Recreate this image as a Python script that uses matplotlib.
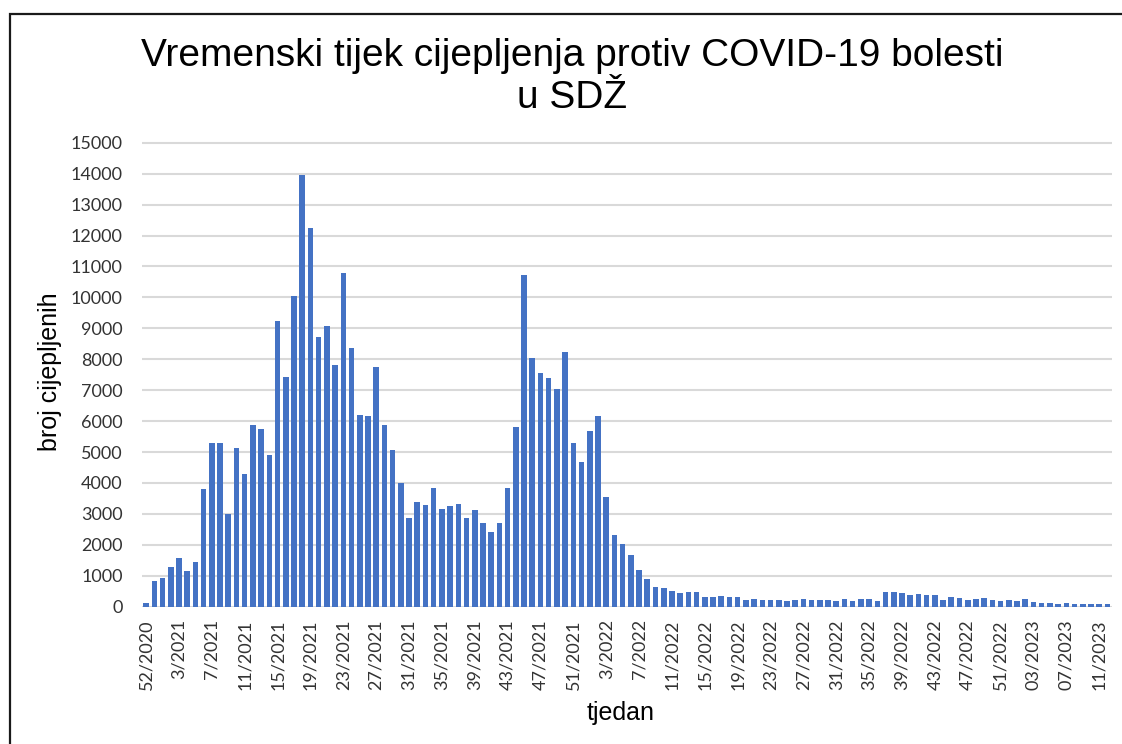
import matplotlib
matplotlib.use("Agg")
import matplotlib.pyplot as plt
from matplotlib.patches import Rectangle

# Week labels: 52/2020 .. 12/2023
weeks = (["52/2020", "53/2020"]
         + [f"{w}/2021" for w in range(1, 53)]
         + [f"{w}/2022" for w in range(1, 53)]
         + [f"{w:02d}/2023" for w in range(1, 13)])

values_2020 = [110, 830]
values_2021 = [915, 1270, 1590, 1140, 1460, 3800, 5290, 5290, 3010, 5130,
               4280, 5890, 5730, 4910, 9250, 7410, 10040, 13940, 12250, 8710,
               9090, 7820, 10800, 8350, 6200, 6150, 7760, 5860, 5080, 4000,
               2880, 3400, 3300, 3830, 3160, 3240, 3320, 2880, 3110, 2690,
               2400, 2690, 3830, 5800, 10730, 8040, 7560, 7380, 7050, 8240,
               5290, 4690]
values_2022 = [5670, 6150, 3550, 2310, 2040, 1670, 1200, 880, 635, 590,
               505, 430, 475, 475, 310, 310, 345, 310, 310, 215,
               250, 215, 215, 215, 180, 215, 250, 215, 215, 215,
               180, 250, 180, 250, 250, 180, 470, 470, 430, 365,
               400, 365, 365, 215, 310, 280, 215, 250, 280, 215,
               170, 215]
values_2023 = [170, 250, 140, 110, 110, 80, 110, 80, 80, 80, 80, 80]

values = values_2020 + values_2021 + values_2022 + values_2023

W, H = 1122, 744
fig = plt.figure(figsize=(W / 100, H / 100), dpi=100)

ymax = 15100
px_per_unit = 464.0 / 15000
ax_top_px = 606.7 - ymax * px_per_unit
left, right = 142 / W, 1111.5 / W
bottom = (H - 606.7) / H
top = (H - ax_top_px) / H
ax = fig.add_axes([left, bottom, right - left, top - bottom])

x = list(range(len(values)))
ax.bar(x, values, width=0.68, color="#4472C4", zorder=3)

ax.set_xlim(-0.5, len(values) - 0.5)
ax.set_ylim(0, ymax)
ax.set_yticks(range(0, 15001, 1000))
ax.set_yticklabels([str(v) for v in range(0, 15001, 1000)],
                   fontfamily="Lato", fontsize=13, color="#333333")
ax.set_xticks(x[::4])
ax.set_xticklabels(weeks[::4], rotation=90, fontfamily="Lato", fontsize=13,
                   color="#333333", va="top", ha="center")
ax.tick_params(axis="both", length=0)
ax.tick_params(axis="y", pad=14)
ax.tick_params(axis="x", pad=9)
ax.grid(axis="y", color="#D9D9D9", linewidth=1.5, zorder=0)
for s in ax.spines.values():
    s.set_visible(False)

fig.text(572 / W, (H - 66) / H, "Vremenski tijek cijepljenja protiv COVID-19 bolesti",
         fontfamily="Liberation Sans", fontsize=28, ha="center", va="baseline",
         color="black")
fig.text(572 / W, (H - 108) / H, "u SDŽ",
         fontfamily="Liberation Sans", fontsize=28, ha="center", va="baseline",
         color="black")

fig.text(50 / W, (H - 372) / H, "broj cijepljenih", rotation=90,
         fontfamily="Liberation Sans", fontsize=18, ha="center", va="center")
fig.text(621 / W, (H - 713) / H, "tjedan",
         fontfamily="Liberation Sans", fontsize=18, ha="center", va="center")

fig.patches.append(Rectangle((9.5 / W, -0.05), 1.2, (H - 14) / H + 0.05,
                             transform=fig.transFigure, fill=False,
                             edgecolor="#1a1a1a", linewidth=1.6))

fig.savefig("out.png", dpi=100)
